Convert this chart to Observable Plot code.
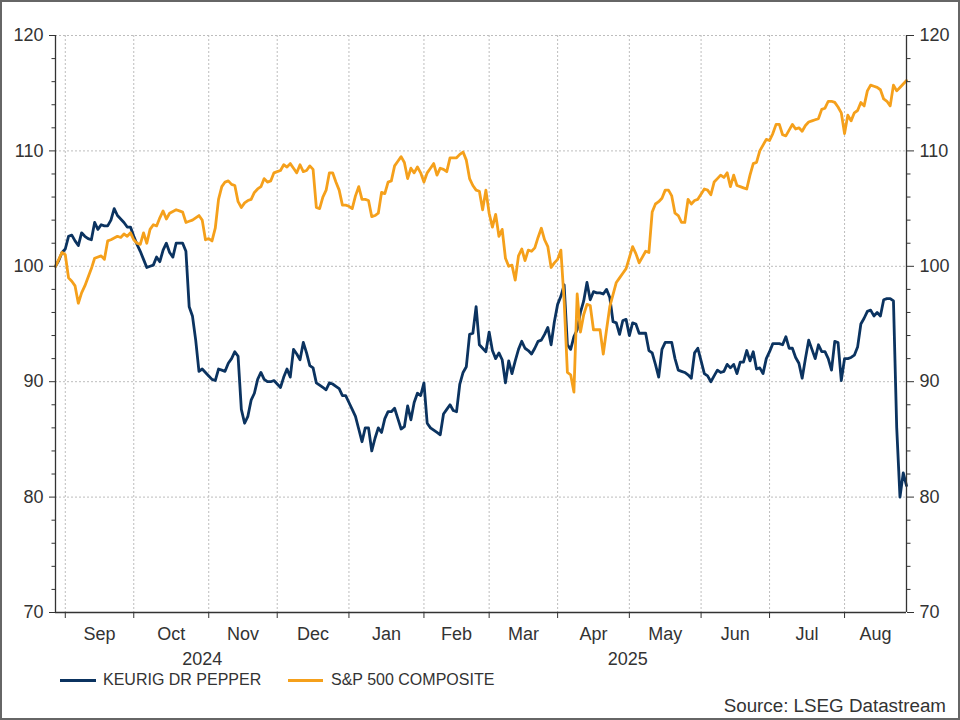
<!DOCTYPE html>
<html>
<head>
<meta charset="utf-8">
<script src="https://cdn.jsdelivr.net/npm/d3@7"></script>
<script src="https://cdn.jsdelivr.net/npm/@observablehq/plot@0.6"></script>
<style>
  html, body { margin: 0; padding: 0; background: #fff; }
  #wrap { position: relative; width: 960px; height: 720px; overflow: hidden;
          font-family: "Liberation Sans", Arial, sans-serif; color: #333; background: #fff; }
  #chart { position: absolute; left: 0; top: 0; }
  #frame { position: absolute; left: 0; top: 0; width: 960px; height: 720px; box-sizing: border-box;
           border: 2px solid #666; pointer-events: none; }
  .leg { position: absolute; top: 671px; font-size: 16px; line-height: 18px; white-space: nowrap; }
  .sw { position: absolute; height: 3px; top: 679px; }
  #source { position: absolute; right: 14px; top: 695px; font-size: 18.8px; line-height: 21px; }
</style>
</head>
<body>
<div id="wrap">
  <div id="chart"></div>
  <div class="sw" id="sw1" style="left:60px;width:36px;"></div>
  <div class="leg" id="leg1" style="left:103px;"></div>
  <div class="sw" id="sw2" style="left:288px;width:35px;"></div>
  <div class="leg" id="leg2" style="left:331px;"></div>
  <div id="source">Source: LSEG Datastream</div>
  <div id="frame"></div>
</div>
<script>
// ---- data (x = weekday number counted from 28 Aug 2024) ----
const seriesNames = ["KEURIG DR PEPPER", "S&P 500 COMPOSITE"];
const seriesColors = ["#0b3360", "#f5a01b"];
const startDate = new Date(2024, 7, 28);
const endDate = new Date(2025, 7, 28);
const monthNames = ["Sep","Oct","Nov","Dec","Jan","Feb","Mar","Apr","May","Jun","Jul","Aug"];
const yearNames = ["2024", "2025"];
const yMajorTicks = [70, 80, 90, 100, 110, 120];
const yMinorTicks = [72,74,76,78,82,84,86,88,92,94,96,98,102,104,106,108,112,114,116,118];

const kdp = [
[0,100],[1,100.5],[2,101.2],[3,101.5],[4,102.6],[5,102.7],[6,102.2],[7,101.8],[8,102.9],[9,102.6],
[10,102.4],[11,102.3],[12,103.8],[13,103.2],[14,103.6],[15,103.5],[16,103.5],[17,104.0],[18,105.0],[19,104.4],
[20,104.1],[21,103.8],[22,103.4],[23,103.4],[24,102.6],[25,101.9],[26,101.3],[27,100.6],[28,99.9],[29,100.0],
[30,100.1],[31,100.8],[32,100.4],[33,101.4],[34,102.0],[35,101.2],[36,100.8],[37,102.0],[38,102.0],[39,102.0],
[40,101.3],[41,96.5],[42,95.7],[43,93.6],[44,90.9],[45,91.1],[46,90.8],[47,90.5],[48,90.2],[49,90.1],
[50,91.1],[51,91.0],[52,90.9],[53,91.6],[54,92.0],[55,92.6],[56,92.2],[57,87.6],[58,86.4],[59,87.0],
[60,88.4],[61,89.0],[62,90.2],[63,90.8],[64,90.2],[65,90.0],[66,90.0],[67,90.1],[68,89.8],[69,89.5],
[70,90.4],[71,91.1],[72,90.4],[73,92.8],[74,92.4],[75,91.9],[76,93.4],[77,92.5],[78,91.4],[79,91.2],
[80,89.9],[81,89.7],[82,89.5],[83,89.3],[84,89.9],[85,89.8],[86,89.6],[87,89.4],[88,88.8],[89,88.8],
[90,88.2],[91,87.6],[92,87.0],[93,85.9],[94,84.8],[95,86.0],[96,86.0],[97,84.0],[98,85.1],[99,86.0],
[100,85.6],[101,86.8],[102,87.4],[103,87.4],[104,87.7],[105,86.8],[106,85.9],[107,86.1],[108,87.9],[109,86.7],
[110,88.2],[111,89.0],[112,88.8],[113,89.9],[114,86.4],[115,86.0],[116,85.8],[117,85.6],[118,85.4],[119,87.2],
[120,87.6],[121,88.0],[122,87.5],[123,87.4],[124,89.8],[125,90.8],[126,91.3],[127,94.1],[128,94.2],[129,96.5],
[130,93.2],[131,92.9],[132,92.6],[133,94.3],[134,92.7],[135,92.0],[136,92.5],[137,91.9],[138,89.9],[139,91.8],
[140,90.7],[141,91.8],[142,92.8],[143,93.5],[144,92.9],[145,92.7],[146,92.4],[147,92.9],[148,93.5],[149,93.6],
[150,94.1],[151,94.7],[152,93.2],[153,95.2],[154,96.7],[155,97.4],[156,98.4],[157,93.2],[158,92.8],[159,93.9],
[160,94.5],[161,96.0],[162,97.0],[163,98.6],[164,97.1],[165,97.8],[166,97.7],[167,97.7],[168,97.6],[169,98.0],
[170,97.3],[171,95.2],[172,95.1],[173,94.1],[174,95.3],[175,95.4],[176,94.0],[177,95.1],[178,95.0],[179,94.2],
[180,94.2],[181,94.2],[182,92.7],[183,92.5],[184,91.5],[185,90.4],[186,92.8],[187,93.4],[188,93.4],[189,93.4],
[190,92.0],[191,91.0],[192,90.9],[193,90.8],[194,90.6],[195,90.3],[196,92.5],[197,92.9],[198,91.8],[199,90.7],
[200,90.5],[201,90.0],[202,90.5],[203,91.0],[204,90.8],[205,90.9],[206,91.5],[207,91.2],[208,91.5],[209,90.7],
[210,91.7],[211,91.7],[212,92.7],[213,91.8],[214,92.6],[215,91.1],[216,91.2],[217,90.7],[218,92.0],[219,92.6],
[220,93.3],[221,93.3],[222,93.3],[223,93.2],[224,93.9],[225,92.9],[226,92.9],[227,92.1],[228,91.6],[229,90.3],
[230,92.0],[231,93.6],[232,92.8],[233,92.0],[234,93.2],[235,92.6],[236,92.6],[237,92.0],[238,91.0],[239,93.5],
[240,93.4],[241,90.1],[242,92.0],[243,92.0],[244,92.1],[245,92.3],[246,93.0],[247,95.0],[248,95.5],[249,96.1],
[250,96.2],[251,95.7],[252,96.0],[253,95.7],[254,97.1],[255,97.2],[256,97.2],[257,97.0],[258,86.0],[259,80.0],
[260,82.1],[261,81.0]
];

const spx = [
[0,100],[2,101.2],[3,101.0],[4,99.0],[5,98.7],[6,98.3],[7,96.8],[8,97.7],[9,98.3],[11,99.8],
[12,100.7],[14,100.9],[15,100.6],[16,102.2],[17,102.3],[19,102.6],[20,102.5],[21,102.8],[22,102.6],[23,102.9],
[24,102.3],[25,102.0],[26,101.9],[27,102.9],[28,102.0],[29,103.2],[30,103.6],[31,103.5],[32,104.2],[33,104.8],
[34,104.1],[35,104.6],[37,104.9],[38,104.8],[39,104.7],[40,103.8],[41,103.9],[42,104.0],[44,104.4],[45,104.0],
[46,102.3],[47,102.4],[48,102.2],[49,103.3],[50,105.8],[51,106.9],[52,107.3],[53,107.4],[54,107.1],[55,107.0],
[56,105.6],[57,105.1],[58,105.5],[59,105.7],[60,105.8],[61,106.4],[62,106.7],[63,106.9],[64,107.6],[65,107.3],
[66,107.4],[67,108.1],[68,108.2],[69,108.3],[70,108.8],[71,108.6],[72,108.9],[73,108.5],[74,108.1],[75,108.8],
[76,108.2],[77,108.3],[78,108.7],[79,108.4],[80,105.1],[81,105.0],[82,106.0],[83,106.6],[84,108.1],[85,108.1],
[86,107.3],[87,106.6],[88,105.3],[89,105.3],[90,105.2],[91,105.0],[92,106.1],[93,106.9],[94,105.8],[95,105.8],
[96,105.7],[97,104.3],[98,104.4],[99,104.6],[100,106.4],[101,106.3],[102,107.3],[103,107.4],[104,108.7],[105,109.1],
[106,109.5],[107,109.0],[108,107.6],[109,108.5],[110,108.1],[111,108.6],[112,108.1],[113,107.3],[114,108.1],[115,108.5],
[116,108.9],[117,107.9],[118,108.5],[119,108.4],[120,108.2],[121,109.4],[122,109.4],[123,109.4],[124,109.7],[125,109.9],
[126,109.2],[127,107.6],[128,107.0],[129,106.6],[130,106.5],[131,104.9],[132,106.6],[133,104.6],[134,103.4],[135,104.5],
[136,102.6],[137,103.2],[138,100.7],[139,100.0],[140,100.1],[141,98.8],[142,100.9],[143,101.5],[144,100.5],[145,101.4],
[146,101.3],[147,101.6],[148,102.5],[149,103.3],[150,102.3],[151,101.7],[152,99.9],[153,100.3],[154,100.6],[155,101.4],
[156,97.0],[157,90.8],[158,90.6],[159,89.1],[160,97.6],[161,94.3],[162,95.8],[163,96.7],[164,96.6],[165,94.5],
[166,94.5],[167,94.5],[168,92.4],[169,94.5],[170,96.5],[172,98.6],[173,99.0],[174,99.4],[175,99.8],[177,101.7],
[178,101.1],[179,100.3],[181,101.3],[182,101.2],[183,104.7],[184,105.4],[185,105.6],[186,105.9],[187,106.6],[188,106.6],
[189,106.1],[190,104.6],[191,104.4],[192,103.8],[193,103.8],[194,105.8],[195,105.4],[196,105.7],[197,105.8],[199,106.7],
[200,106.6],[201,106.2],[202,107.3],[203,107.6],[204,107.9],[205,107.7],[206,108.1],[207,106.9],[208,107.9],[209,107.0],
[210,106.9],[211,106.8],[212,106.7],[213,107.9],[214,108.9],[215,109.0],[216,110.0],[217,110.5],[218,111.0],[219,110.9],
[220,111.5],[221,112.3],[222,112.3],[223,111.4],[224,111.3],[225,111.8],[226,112.3],[227,111.9],[228,112.0],[229,111.7],
[230,112.2],[231,112.5],[232,112.6],[233,112.7],[234,112.8],[235,113.6],[236,113.7],[237,114.3],[238,114.3],[239,114.2],
[240,113.8],[241,113.3],[242,111.5],[243,113.1],[244,112.6],[245,113.3],[246,113.5],[247,114.2],[248,113.9],[249,115.2],
[250,115.7],[251,115.6],[252,115.5],[253,115.3],[254,114.5],[255,114.3],[256,113.9],[257,115.7],[258,115.2],[259,115.5],
[260,115.8],[261,116.1]
];

// ---- helpers ----
function weekdayIndex(date) {
  let n = 0;
  for (let d = new Date(startDate); d < date; d.setDate(d.getDate() + 1)) {
    const w = d.getDay();
    if (w !== 0 && w !== 6) n++;
  }
  return n;
}
const endIdx = weekdayIndex(endDate);
const monthStarts = monthNames.map((_, k) => weekdayIndex(new Date(2024, 8 + k, 1)));
const monthLabels = monthNames.map((name, k) => ({
  name, mid: (monthStarts[k] + (k + 1 < monthStarts.length ? monthStarts[k + 1] : endIdx)) / 2
}));
const jan = weekdayIndex(new Date(2025, 0, 1));
const yearLabels = [{name: yearNames[0], mid: jan / 2}, {name: yearNames[1], mid: (jan + endIdx) / 2}];

const toRows = (arr, s) => arr.map(([day, value]) => ({day, value, series: s}));
const rowsK = toRows(kdp, seriesNames[0]);
const rowsS = toRows(spx, seriesNames[1]);

const yDomain = [70, 120];
const grid = {stroke: "#bdbdbd", strokeWidth: 1, strokeDasharray: "2,2"};
const axisCol = "#333";

const chart = Plot.plot({
  width: 960,
  height: 670,
  marginTop: 35,
  marginBottom: 58,
  marginLeft: 55,
  marginRight: 54,
  style: {fontFamily: "'Liberation Sans', Arial, sans-serif", fontSize: "18px", color: "#333", background: "transparent"},
  x: {type: "linear", domain: [0, endIdx], axis: null},
  y: {domain: yDomain, axis: null},
  marks: [
    Plot.ruleY(yMajorTicks.filter(v => v > yDomain[0]), grid),
    Plot.ruleX(monthStarts, grid),
    Plot.line(rowsK, {x: "day", y: "value", stroke: seriesColors[0], strokeWidth: 2.8, strokeLinejoin: "round"}),
    Plot.line(rowsS, {x: "day", y: "value", stroke: seriesColors[1], strokeWidth: 2.8, strokeLinejoin: "round"}),
    Plot.ruleX([0, endIdx], {stroke: axisCol, strokeWidth: 1.3}),
    Plot.ruleY([yDomain[0]], {stroke: axisCol, strokeWidth: 1.3}),
    Plot.axisY({anchor: "left", label: null, ticks: yMajorTicks, tickSize: 6, tickPadding: 6, fontSize: 18, stroke: axisCol, fill: "#333"}),
    Plot.axisY({anchor: "left", label: null, ticks: yMinorTicks, tickSize: 3.5, tickFormat: () => "", stroke: axisCol}),
    Plot.axisY({anchor: "right", label: null, ticks: yMajorTicks, tickSize: 7, tickPadding: 6, fontSize: 18, stroke: axisCol, fill: "#333"}),
    Plot.axisY({anchor: "right", label: null, ticks: yMinorTicks, tickSize: 3.5, tickFormat: () => "", stroke: axisCol}),
    Plot.axisX({label: null, ticks: monthStarts, tickSize: 6, tickFormat: () => "", stroke: axisCol}),
    Plot.text(monthLabels, {x: "mid", y: () => yDomain[0], dy: 22, text: "name", fontSize: 18, fill: "#333", lineAnchor: "middle"}),
    Plot.text(yearLabels, {x: "mid", y: () => yDomain[0], dy: 47, text: "name", fontSize: 18, fill: "#333", lineAnchor: "middle"})
  ]
});
document.getElementById("chart").appendChild(chart);

document.getElementById("sw1").style.background = seriesColors[0];
document.getElementById("sw2").style.background = seriesColors[1];
document.getElementById("leg1").textContent = seriesNames[0];
document.getElementById("leg2").textContent = seriesNames[1];
</script>
</body>
</html>
